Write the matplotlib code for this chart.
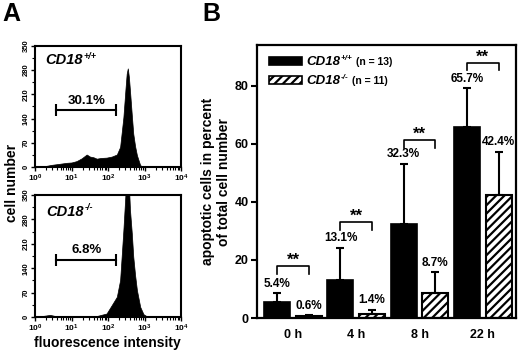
import numpy as np
import matplotlib.pyplot as plt
from matplotlib.patches import Rectangle

plt.rcParams['font.family'] = 'Liberation Sans'
plt.rcParams['font.weight'] = 'bold'
plt.rcParams['hatch.linewidth'] = 1.6

# ---- panel A: flow cytometry histograms (fluorescence, counts)
wt_fl = [1.0, 1.4, 2.0, 2.8, 3.9, 5.4, 7.4, 10, 13.8, 19, 26, 32, 40, 49, 63, 91,
         126, 174, 214, 263, 302, 324, 347, 372, 398, 447, 490, 550, 617, 759, 933]
wt_cnt = [0, 1, 3, 6, 8, 10, 12, 13, 17, 25, 36, 30, 28, 24, 26, 27,
          30, 36, 58, 144, 230, 270, 285, 260, 221, 150, 96, 60, 34, 5, 0]
ko_fl = [1.0, 1.4, 2.6, 3.5, 6, 10, 20, 50, 91, 126, 174, 214, 263, 302, 347,
         372, 398, 447, 490, 550, 617, 759, 933, 1148, 1400]
ko_cnt = [0, 2, 6, 3, 3, 2, 3, 3, 10, 34, 58, 106, 250, 360, 400,
          380, 308, 240, 173, 120, 77, 29, 8, 2, 0]
gate_lo, gate_hi, gate_y = 3.8, 166, 164
gate_pct = ['30.1%', '6.8%']
geno = ['CD18', 'CD18']
geno_sup = ['+/+', '-/-']

# ---- panel B: apoptotic cells
times = ['0 h', '4 h', '8 h', '22 h']
wt_mean = [5.4, 13.1, 32.3, 65.7]
wt_err = [3.2, 11.1, 20.9, 13.5]
ko_mean = [0.6, 1.4, 8.7, 42.4]
ko_err = [0.4, 1.4, 7.0, 14.9]
sig_level = [18.0, 33.2, 61.4, 88.0]
n_counts = ['(n = 13)', '(n = 11)']


def genotype_label(ax, xx, yy, k, size):
    t = ax.text(xx, yy, geno[k], transform=ax.transAxes, ha='left', va='baseline',
                fontsize=size, style='italic')
    s = ax.annotate(geno_sup[k], xy=(1, yy), xycoords=(t, ax.transAxes),
                    xytext=(0.5, size * 0.38), textcoords='offset points',
                    ha='left', va='baseline', fontsize=size * 0.62, style='italic')
    return t, s


fig = plt.figure(figsize=(5.2, 3.53), dpi=100)

axA1 = fig.add_axes([0.0673, 0.527, 0.281, 0.343])
axA2 = fig.add_axes([0.0673, 0.102, 0.281, 0.3456])
for k, (ax, fl, cnt, gx, gy) in enumerate([(axA1, wt_fl, wt_cnt, 0.07, 0.85),
                                          (axA2, ko_fl, ko_cnt, 0.08, 0.83)]):
    ax.fill_between(fl, cnt, color='black', lw=0.5)
    ax.set_xscale('log')
    ax.set_xlim(1, 1e4)
    ax.set_ylim(0, 350)
    ax.set_yticks(np.arange(0, 351, 70))
    ax.set_yticks(np.arange(0, 351, 35), minor=True)
    ax.tick_params(axis='y', labelsize=5.5, rotation=90, length=3, width=1, pad=1)
    ax.tick_params(axis='y', which='minor', length=2, width=0.8)
    ax.tick_params(axis='x', labelsize=6, length=3, width=1, pad=1)
    ax.tick_params(axis='x', which='minor', length=2, width=0.8)
    for lab in ax.get_yticklabels():
        lab.set_va('center')
    for s in ax.spines.values():
        s.set_linewidth(1.5)
    ax.plot([gate_lo, gate_hi], [gate_y, gate_y], color='black', lw=1.5)
    ax.vlines([gate_lo, gate_hi], gate_y - 17, gate_y + 17, color='black', lw=1.5)
    ax.text(np.sqrt(gate_lo * gate_hi), gate_y + 10, gate_pct[k], ha='center', va='bottom',
            fontsize=9.5)
    genotype_label(ax, gx, gy, k, 10.5)

fig.text(12 / 520, 1 - 183 / 353, 'cell number', rotation=90, ha='center', va='center', fontsize=10)
fig.text(107 / 520, 1 - 343 / 353, 'fluorescence intensity', ha='center', va='center', fontsize=10)

# ---- panel B
axB = fig.add_axes([0.494, 0.099, 0.498, 0.773])
x = np.arange(len(times))
w = 0.41
axB.bar(x - 0.25, wt_mean, w, color='black', edgecolor='black', lw=1.2)
axB.bar(x + 0.25, ko_mean, w, color='white', edgecolor='black', hatch='////', lw=1.5)
axB.errorbar(x - 0.25, wt_mean, yerr=[np.zeros(4), wt_err], fmt='none', ecolor='black',
             elinewidth=1.5, capsize=3.2, capthick=1.5)
axB.errorbar(x + 0.25, ko_mean, yerr=[np.zeros(4), ko_err], fmt='none', ecolor='black',
             elinewidth=1.5, capsize=3.2, capthick=1.5)
for i in range(len(times)):
    axB.annotate(f'{wt_mean[i]}%', (x[i] - 0.25, wt_mean[i] + wt_err[i]), xytext=(0, 2.5),
                 textcoords='offset points', ha='center', va='bottom', fontsize=8.5)
    axB.annotate(f'{ko_mean[i]}%', (x[i] + 0.25, ko_mean[i] + ko_err[i]), xytext=(0, 2.5),
                 textcoords='offset points', ha='center', va='bottom', fontsize=8.5)
    h = sig_level[i]
    axB.plot([x[i] - 0.25, x[i] - 0.25, x[i] + 0.25, x[i] + 0.25], [h - 2.7, h, h, h - 2.7],
             color='black', lw=1.2)
    axB.text(x[i], h + 0.2, '**', ha='center', va='baseline', fontsize=12)

axB.set_xlim(-0.57, 3.52)
axB.set_ylim(0, 94)
axB.set_yticks([0, 20, 40, 60, 80])
axB.set_xticks(x)
axB.set_xticklabels(times)
axB.tick_params(axis='y', labelsize=9, length=4, width=1.5, pad=2)
axB.tick_params(axis='x', labelsize=9, length=0, pad=8)
for s in axB.spines.values():
    s.set_linewidth(1.6)

# legend drawn by hand
for k, (yc, fc, hatch) in enumerate([(0.941, 'black', None), (0.872, 'white', '////')]):
    axB.add_patch(Rectangle((0.046, yc - 0.014), 0.127, 0.028, transform=axB.transAxes,
                            facecolor=fc, edgecolor='black', lw=1.2, hatch=hatch))
    t, sup = genotype_label(axB, 0.19, yc - 0.014, k, 9.5)
    axB.annotate(n_counts[k], xy=(1, yc - 0.014), xycoords=(sup, axB.transAxes), xytext=(2.5, 0),
                 textcoords='offset points', ha='left', va='baseline', fontsize=7.5)

fig.text(216 / 520, 1 - 181.5 / 353, 'apoptotic cells in percent\nof total cell number',
         rotation=90, ha='center', va='center', fontsize=10, linespacing=1.1)

fig.text(0.004, 0.995, 'A', ha='left', va='top', fontsize=18)
fig.text(0.39, 0.995, 'B', ha='left', va='top', fontsize=18)

fig.savefig('out.png', dpi=100)
